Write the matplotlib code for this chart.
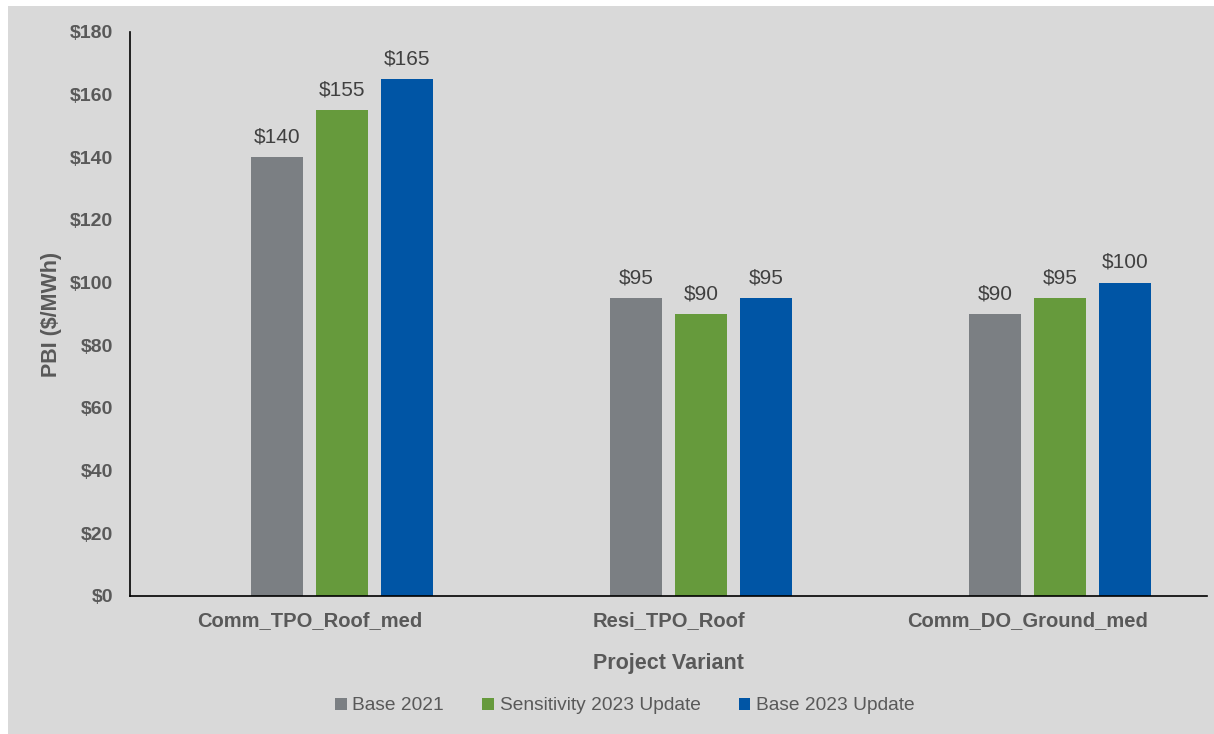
import matplotlib
matplotlib.use("Agg")
import matplotlib.pyplot as plt
import numpy as np
from matplotlib.patches import Rectangle

plt.rcParams['font.family'] = ['Liberation Sans', 'DejaVu Sans']

categories = ['Comm_TPO_Roof_med', 'Resi_TPO_Roof', 'Comm_DO_Ground_med']
series = ['Base 2021', 'Sensitivity 2023 Update', 'Base 2023 Update']
values = [
    [140, 95, 90],
    [155, 90, 95],
    [165, 95, 100],
]
colors = ['#7b7f83', '#669a3c', '#0055a5']

bg = '#d9d9d9'
txt = '#595959'

fig = plt.figure(figsize=(12.14, 7.34), dpi=100)
fig.patch.set_facecolor('white')
fig.patches.append(Rectangle((8 / 1214, 0), 1, 1 - 6 / 734, transform=fig.transFigure,
                             facecolor=bg, edgecolor='none', zorder=-10))
ax = fig.add_axes([130 / 1214, 138 / 734, 1077 / 1214, 564 / 734])
ax.set_facecolor(bg)

x = np.arange(len(categories))
step = 0.181
width = 0.145
# four slots per group, first one empty
for i, (name, vals, c) in enumerate(zip(series, values, colors)):
    pos = x + (i - 0.5) * step
    bars = ax.bar(pos, vals, width, color=c, label=name, zorder=2)
    for b, v in zip(bars, vals):
        ax.text(b.get_x() + b.get_width() / 2, v + 3.5, f'${v}', ha='center', va='bottom',
                fontsize=15, color='#404040')

ax.set_xlim(-0.5, 2.5)
ax.set_ylim(0, 180)
ax.set_yticks(np.arange(0, 181, 20))
ax.set_yticklabels([f'${v}' for v in range(0, 181, 20)], fontsize=14, fontweight='bold', color=txt)
ax.set_xticks(x)
ax.set_xticklabels(categories, fontsize=14.5, fontweight='bold', color=txt)
ax.tick_params(axis='both', length=0)
ax.tick_params(axis='y', pad=12)
ax.tick_params(axis='x', pad=11)

for s in ['top', 'right']:
    ax.spines[s].set_visible(False)
for s in ['left', 'bottom']:
    ax.spines[s].set_color('black')
    ax.spines[s].set_linewidth(1.2)

ax.set_ylabel('PBI ($/MWh)', fontsize=15.5, fontweight='bold', color=txt, labelpad=6)
ax.set_xlabel('Project Variant', fontsize=15.5, fontweight='bold', color=txt, labelpad=16)

fig.legend(loc='center', bbox_to_anchor=(625 / 1214, 1 - 706 / 734), ncol=3, frameon=False,
           fontsize=13.8, labelcolor=txt, handlelength=0.6, handleheight=0.6,
           handletextpad=0.3, columnspacing=2.0)

fig.savefig('out.png', dpi=100, facecolor=fig.get_facecolor())
